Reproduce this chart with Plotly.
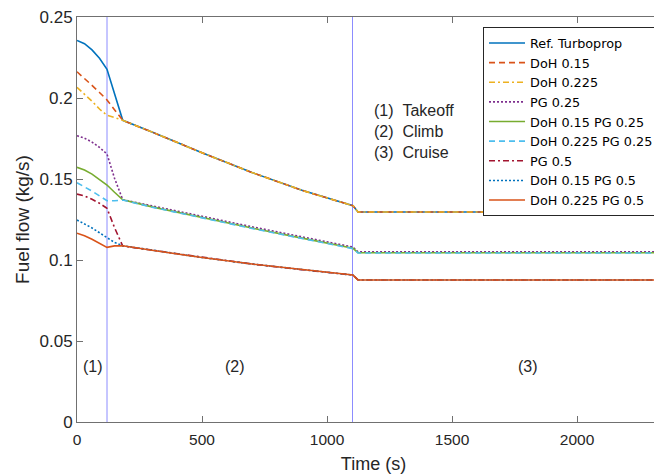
import plotly.graph_objects as go

# Time samples (s)
time_s = [0, 30, 60, 90, 120, 150, 183, 300, 500, 700, 900, 1104, 1124, 2400]

# Fuel flow (kg/s) per configuration
ref_turboprop = [0.2355, 0.2335, 0.2297, 0.2245, 0.2177, 0.2020, 0.1862, 0.1790, 0.1662, 0.1540, 0.1430, 0.1335, 0.1296, 0.1296]
doh_015 = [0.2162, 0.2122, 0.2078, 0.2034, 0.1988, 0.1928, 0.1862, 0.1790, 0.1662, 0.1540, 0.1430, 0.1335, 0.1296, 0.1296]
doh_0225 = [0.2066, 0.2025, 0.1980, 0.1932, 0.1893, 0.1880, 0.1862, 0.1790, 0.1662, 0.1540, 0.1430, 0.1335, 0.1296, 0.1296]
pg_025 = [0.1767, 0.1752, 0.1728, 0.1695, 0.1654, 0.1505, 0.1372, 0.1336, 0.1270, 0.1205, 0.1143, 0.1080, 0.1050, 0.1050]
doh_015_pg_025 = [0.1572, 0.1555, 0.1530, 0.1498, 0.1463, 0.1418, 0.1372, 0.1328, 0.1262, 0.1197, 0.1135, 0.1072, 0.1045, 0.1045]
doh_0225_pg_025 = [0.1477, 0.1452, 0.1425, 0.1396, 0.1366, 0.1366, 0.1370, 0.1326, 0.1260, 0.1195, 0.1133, 0.1070, 0.1043, 0.1043]
pg_05 = [0.1407, 0.1395, 0.1375, 0.1350, 0.1319, 0.1200, 0.1086, 0.1060, 0.1015, 0.0975, 0.0940, 0.0907, 0.0877, 0.0877]
doh_015_pg_05 = [0.1247, 0.1225, 0.1198, 0.1168, 0.1138, 0.1108, 0.1088, 0.1060, 0.1015, 0.0975, 0.0940, 0.0907, 0.0877, 0.0877]
doh_0225_pg_05 = [0.1165, 0.1150, 0.1128, 0.1104, 0.1078, 0.1087, 0.1088, 0.1060, 0.1015, 0.0975, 0.0940, 0.0907, 0.0877, 0.0877]

series_names = ["Ref. Turboprop", "DoH 0.15", "DoH 0.225", "PG 0.25", "DoH 0.15 PG 0.25",
                "DoH 0.225 PG 0.25", "PG 0.5", "DoH 0.15 PG 0.5", "DoH 0.225 PG 0.5"]
series_values = [ref_turboprop, doh_015, doh_0225, pg_025, doh_015_pg_025,
                 doh_0225_pg_025, pg_05, doh_015_pg_05, doh_0225_pg_05]

# Phase boundaries (s) and labels
phase_bounds = [120, 1102]
phase_labels = ["(1)", "(2)", "(3)"]
phase_label_x = [65, 632, 1805]
phase_label_y = 0.034
phase_legend = "(1)&nbsp;&nbsp;Takeoff<br>(2)&nbsp;&nbsp;Climb<br>(3)&nbsp;&nbsp;Cruise"

x_ticks = [0, 500, 1000, 1500, 2000]
y_ticks = [0, 0.05, 0.1, 0.15, 0.2, 0.25]
y_tick_text = ["0", "0.05", "0.1", "0.15", "0.2", "0.25"]

colors = ["#0072BD", "#D95319", "#EDB120", "#7E2F8E", "#77AC30",
          "#4DBEEE", "#A2142F", "#0072BD", "#D95319"]
dashes = ["solid", "6px,4px", "6px,3px,2px,3px", "2px,2px", "solid",
          "6px,4px", "6px,3px,2px,3px", "2px,2px", "solid"]

fig = go.Figure()
for name, vals, c, d in zip(series_names, series_values, colors, dashes):
    fig.add_trace(go.Scatter(x=time_s, y=vals, mode="lines", name=name,
                             line=dict(color=c, width=1.6, dash=d)))

for xb in phase_bounds:
    fig.add_shape(type="line", x0=xb, x1=xb, y0=0, y1=0.25, xref="x", yref="y",
                  line=dict(color="rgba(120,120,255,0.85)", width=1), layer="below")

for lab, lx in zip(phase_labels, phase_label_x):
    fig.add_annotation(x=lx, y=phase_label_y, text=lab, showarrow=False,
                       font=dict(size=16, color="#262626"), xanchor="center", yanchor="middle")

fig.add_annotation(x=1180, y=0.1985, text=phase_legend, showarrow=False, align="left",
                   xanchor="left", yanchor="top", font=dict(size=16, color="#262626"))

axis_common = dict(showline=True, linecolor="#707070", linewidth=1, mirror="ticks",
                   ticks="inside", ticklen=6, tickcolor="#707070", showgrid=False,
                   zeroline=False, automargin=False, ticklabeloverflow="allow")

fig.update_layout(
    width=662, height=474,
    margin=dict(l=69, r=0, t=9, b=60),
    paper_bgcolor="white", plot_bgcolor="white",
    font=dict(family="Liberation Sans, Arial, sans-serif", color="#262626"),
    xaxis=dict(range=[0, 2372], tickvals=x_ticks, tickfont=dict(size=15.5, color="#262626"),
               ticklabelstandoff=3,
               title=dict(text="Time (s)", font=dict(size=18), standoff=10), **axis_common),
    yaxis=dict(range=[0, 0.25], tickvals=y_ticks, ticktext=y_tick_text,
               tickfont=dict(size=17, color="#262626"),
               title=dict(text="Fuel flow (kg/s)", font=dict(size=19), standoff=4), **axis_common),
    legend=dict(x=0.6847, y=0.975, xanchor="left", yanchor="top",
                bgcolor="white", bordercolor="#262626", borderwidth=1,
                font=dict(family="DejaVu Sans, sans-serif", size=12.8, color="#000000"),
                tracegroupgap=0, itemwidth=36),
    showlegend=True,
)

fig.write_html("out.html")
